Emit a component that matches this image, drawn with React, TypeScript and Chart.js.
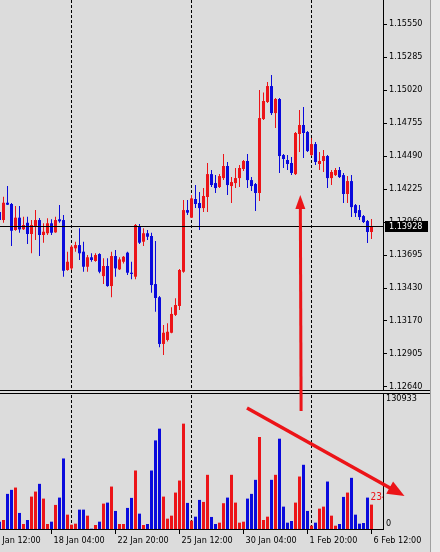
import { useEffect, useRef } from "react";
import { Chart, registerables } from "chart.js";

Chart.register(...registerables);

// ---- data (H4 candles, oldest first) ----
const OPEN = [
  1.1404, 1.13976, 1.14115, 1.14105, 1.13896, 1.13995, 1.13902, 1.13954, 1.13864, 1.13922,
  1.13976, 1.13856, 1.1387, 1.1395, 1.13877, 1.13982, 1.13976, 1.13575, 1.13588, 1.13749,
  1.13775, 1.13722, 1.13601, 1.13677, 1.13647, 1.13703, 1.13526, 1.13607, 1.13446, 1.13687,
  1.1358, 1.13641, 1.13714, 1.13553, 1.13521, 1.13928, 1.13802, 1.1387, 1.13848, 1.13462,
  1.13356, 1.12981, 1.13013, 1.13071, 1.13214, 1.13286, 1.13561, 1.14056, 1.13995, 1.14145,
  1.14113, 1.14072, 1.14161, 1.14345, 1.14273, 1.14241, 1.14313, 1.1441, 1.14249, 1.14273,
  1.14313, 1.14386, 1.1445, 1.14297, 1.14265, 1.14193, 1.14787, 1.14924, 1.15052, 1.14835,
  1.14948, 1.14498, 1.14458, 1.14434, 1.14345, 1.14667, 1.14739, 1.14683, 1.14498, 1.14586,
  1.14426, 1.1445, 1.1449, 1.14313, 1.14337, 1.14378, 1.14337, 1.14185, 1.14289, 1.14096,
  1.14056, 1.14008, 1.13968, 1.1388,
];
const HIGH = [
  1.14072, 1.14163, 1.14249, 1.14113, 1.14088, 1.14088, 1.14003, 1.14003, 1.13976, 1.14056,
  1.13992, 1.1395, 1.1399, 1.13982, 1.14003, 1.14096, 1.14016, 1.13722, 1.13775, 1.13802,
  1.1391, 1.13802, 1.13695, 1.13709, 1.13709, 1.13709, 1.13669, 1.13669, 1.13722, 1.13735,
  1.13677, 1.13687, 1.13722, 1.13641, 1.13944, 1.13944, 1.1391, 1.13896, 1.13874, 1.13807,
  1.13366, 1.13133, 1.13147, 1.13275, 1.13347, 1.13583, 1.14137, 1.14137, 1.14177, 1.14257,
  1.14201, 1.14233, 1.14434, 1.14378, 1.14337, 1.14345, 1.14506, 1.14442, 1.14321, 1.14394,
  1.14418, 1.14458, 1.14506, 1.14321, 1.14273, 1.1502, 1.15, 1.15084, 1.1514, 1.14956,
  1.14956, 1.14506, 1.14498, 1.14482, 1.14683, 1.14859, 1.14883, 1.14691, 1.14635, 1.14602,
  1.14522, 1.14538, 1.14498, 1.14378, 1.14394, 1.14402, 1.14354, 1.14329, 1.14337, 1.14105,
  1.14096, 1.14016, 1.13976, 1.13984,
];
const LOW = [
  1.1396, 1.13954, 1.14096, 1.13767, 1.1389, 1.13874, 1.13896, 1.13783, 1.13709, 1.13815,
  1.13687, 1.13794, 1.13856, 1.13856, 1.13874, 1.13954, 1.13521, 1.13569, 1.13575, 1.13722,
  1.13655, 1.13561, 1.13561, 1.13641, 1.13641, 1.13548, 1.13462, 1.13441, 1.13356, 1.13521,
  1.13575, 1.13628, 1.13534, 1.135, 1.135, 1.13783, 1.13767, 1.13815, 1.13392, 1.1324,
  1.12954, 1.12892, 1.13, 1.13066, 1.13206, 1.13254, 1.13553, 1.14016, 1.13992, 1.14072,
  1.13896, 1.1404, 1.1404, 1.14241, 1.14193, 1.14233, 1.14297, 1.14177, 1.14113, 1.14233,
  1.14241, 1.1437, 1.14233, 1.14209, 1.14048, 1.14129, 1.14779, 1.14916, 1.14819, 1.14715,
  1.14354, 1.14394, 1.14378, 1.14337, 1.14337, 1.14522, 1.14474, 1.14522, 1.1449, 1.14418,
  1.14378, 1.14362, 1.14233, 1.14257, 1.14329, 1.14313, 1.14113, 1.14113, 1.14, 1.14,
  1.13976, 1.13952, 1.13791, 1.13824,
];
const CLOSE = [
  1.13976, 1.14115, 1.14099, 1.1389, 1.13995, 1.13901, 1.13936, 1.13864, 1.13936, 1.13976,
  1.13856, 1.13882, 1.1395, 1.13874, 1.13976, 1.13966, 1.13569, 1.13641, 1.13762, 1.13775,
  1.13709, 1.13601, 1.13677, 1.13655, 1.13695, 1.13561, 1.13607, 1.13446, 1.13687, 1.13588,
  1.1366, 1.13681, 1.13553, 1.13543, 1.13936, 1.13794, 1.1387, 1.13842, 1.13454, 1.1335,
  1.12981, 1.13071, 1.13079, 1.13222, 1.13294, 1.13575, 1.14056, 1.14035, 1.1415, 1.14105,
  1.14072, 1.14169, 1.14345, 1.14257, 1.14233, 1.14329, 1.1441, 1.14257, 1.14281, 1.14313,
  1.14394, 1.1445, 1.14297, 1.14249, 1.14193, 1.14795, 1.14932, 1.15052, 1.14835, 1.14948,
  1.1449, 1.14466, 1.14426, 1.14354, 1.14675, 1.14739, 1.14675, 1.1453, 1.14586, 1.14442,
  1.1445, 1.1449, 1.14313, 1.14362, 1.14378, 1.14321, 1.14185, 1.14289, 1.1408, 1.14032,
  1.14, 1.1396, 1.1388, 1.13928,
];
const VOLUME = [
  7050, 8690, 33810, 37670, 39900, 15460, 4830, 8690, 31200, 36030,
  43470, 29270, 4830, 7050, 23180, 30240, 67910, 13810, 4150, 5120,
  18640, 18640, 12850, 300, 3860, 7050, 24440, 25410, 40860, 17390,
  4830, 4830, 20290, 29950, 56320, 14780, 3860, 4830, 56320, 85300,
  96600, 31200, 9950, 12850, 35070, 46660, 101430, 25120, 8020, 11880,
  28010, 26080, 52160, 11590, 4830, 6090, 24830, 30240, 52160, 25410,
  6090, 7050, 29270, 33810, 47330, 88580, 8690, 11880, 47330, 52160,
  86940, 21540, 6090, 7730, 25410, 50520, 61820, 17390, 3190, 6090,
  19610, 21540, 45690, 12850, 3190, 4830, 30910, 35070, 49270, 13810,
  5120, 5800, 30240, 23470,
];
const PRICE_TICKS = [1.1555, 1.15285, 1.1502, 1.14755, 1.1449, 1.14225, 1.1396, 1.13695, 1.1343, 1.1317, 1.12905, 1.1264];
const TIME_LABELS = ["15 Jan 12:00", "18 Jan 04:00", "22 Jan 20:00", "25 Jan 12:00", "30 Jan 04:00", "1 Feb 20:00", "6 Feb 12:00"];
const TIME_LABEL_BARS = [-3, 13, 29, 45, 61, 77, 93];
const SEPARATOR_BARS = [18, 48, 78];
const BID = 1.13928;
const VOLUME_MAX = 130933;
const PRICE_PANE_MIN = 1.12611;
// hand-drawn arrows (bar index / price or volume)
const ARROW_UP = { fromBar: 75.4, fromPrice: 1.12442, toBar: 75.2, toPrice: 1.14177 };
const ARROW_DOWN = { fromBar: 61.875, fromVol: 116500, toBar: 101.25, toVol: 31800 };

// ---- axis ranges / styling ----
const X_MIN = 0.125;
const X_MAX = 95.875;
const PRICE_AXIS_MIN = 1.11495;
const PRICE_AXIS_MAX = 1.15743;
const VOLUME_AXIS_MAX = 509300;
const RED = "rgb(236,20,24)";
const BLUE = "rgb(10,10,220)";
const BG = "rgb(220,220,220)";
const FONT = "'DejaVu Sans Condensed', 'Liberation Sans', sans-serif";

function drawArrow(ctx: CanvasRenderingContext2D, x1: number, y1: number, x2: number, y2: number, lw: number, hl: number, hw: number) {
  const a = Math.atan2(y2 - y1, x2 - x1);
  const c = Math.cos(a), s = Math.sin(a);
  const bx = x2 - hl * c, by = y2 - hl * s;
  ctx.strokeStyle = RED;
  ctx.fillStyle = RED;
  ctx.lineWidth = lw;
  ctx.lineCap = "butt";
  ctx.beginPath();
  ctx.moveTo(x1, y1);
  ctx.lineTo(bx + c, by + s);
  ctx.stroke();
  ctx.beginPath();
  ctx.moveTo(x2, y2);
  ctx.lineTo(bx + (hw / 2) * s, by - (hw / 2) * c);
  ctx.lineTo(bx - (hw / 2) * s, by + (hw / 2) * c);
  ctx.closePath();
  ctx.fill();
}

export default function App() {
  const ref = useRef<HTMLCanvasElement>(null);
  useEffect(() => {
    const canvas = ref.current;
    if (!canvas) return;
    const colors = OPEN.map((o, i) => (CLOSE[i] >= o ? RED : BLUE));

    const decor = {
      id: "mt4decor",
      beforeDraw(chart: any) {
        const { ctx, width, height } = chart;
        ctx.save();
        ctx.fillStyle = BG;
        ctx.fillRect(0, 0, width, height);
        ctx.fillStyle = "rgb(232,232,232)";
        ctx.fillRect(431, 0, width - 431, height);
        ctx.fillStyle = "rgb(160,160,160)";
        ctx.fillRect(430, 0, 1, height);
        ctx.restore();
      },
      beforeDatasetsDraw(chart: any) {
        const { ctx, chartArea, scales } = chart;
        ctx.save();
        ctx.strokeStyle = "#000";
        ctx.lineWidth = 1;
        ctx.setLineDash([3, 2]);
        SEPARATOR_BARS.forEach((b) => {
          const x = Math.round(scales.x.getPixelForValue(b) - 0.5) + 0.5;
          ctx.beginPath();
          ctx.moveTo(x, chartArea.top);
          ctx.lineTo(x, chartArea.bottom);
          ctx.stroke();
        });
        ctx.restore();
      },
      afterDatasetsDraw(chart: any) {
        const { ctx, chartArea, scales } = chart;
        const yP = scales.y, yV = scales.yVol, x = scales.x;
        ctx.save();
        // bid line
        const by = Math.round(yP.getPixelForValue(BID)) + 0.5;
        ctx.strokeStyle = "#000";
        ctx.lineWidth = 1;
        ctx.beginPath();
        ctx.moveTo(chartArea.left, by);
        ctx.lineTo(chartArea.right, by);
        ctx.stroke();
        // pane borders
        const pb = Math.round(yP.getPixelForValue(PRICE_PANE_MIN)) + 0.5;
        const vt = Math.round(yV.getPixelForValue(VOLUME_MAX)) + 0.5;
        ctx.fillStyle = BG;
        ctx.fillRect(chartArea.left, pb, 430, vt - pb);
        ctx.beginPath();
        ctx.moveTo(chartArea.left, pb);
        ctx.lineTo(430, pb);
        ctx.moveTo(chartArea.left, vt);
        ctx.lineTo(430, vt);
        ctx.stroke();
        // volume scale labels
        ctx.fillStyle = "#000";
        ctx.font = "9px " + FONT;
        ctx.textAlign = "left";
        ctx.textBaseline = "middle";
        ctx.fillText(String(VOLUME_MAX), chartArea.right + 3, yV.getPixelForValue(VOLUME_MAX) + 6);
        ctx.fillText("0", chartArea.right + 3, yV.getPixelForValue(0) - 5.5);
        // current volume value (clipped by plot edge)
        const li = VOLUME.length - 1;
        ctx.save();
        ctx.beginPath();
        ctx.rect(chartArea.left, chartArea.top, chartArea.right - chartArea.left, chartArea.bottom - chartArea.top);
        ctx.clip();
        ctx.fillStyle = colors[li];
        ctx.font = "10px " + FONT;
        ctx.textBaseline = "bottom";
        ctx.fillText(String(VOLUME[li]), x.getPixelForValue(li) - 1, yV.getPixelForValue(VOLUME[li]) - 2);
        ctx.restore();
        // bid label
        ctx.fillStyle = "#000";
        ctx.fillRect(chartArea.right + 2, by - 5.5, 43, 11);
        ctx.fillStyle = "#fff";
        ctx.font = "9px " + FONT;
        ctx.textBaseline = "middle";
        ctx.fillText(BID.toFixed(5), chartArea.right + 6, by);
        // arrows
        drawArrow(ctx, x.getPixelForValue(ARROW_UP.fromBar), yP.getPixelForValue(ARROW_UP.fromPrice),
          x.getPixelForValue(ARROW_UP.toBar), yP.getPixelForValue(ARROW_UP.toPrice), 3, 14, 10);
        drawArrow(ctx, x.getPixelForValue(ARROW_DOWN.fromBar), yV.getPixelForValue(ARROW_DOWN.fromVol),
          x.getPixelForValue(ARROW_DOWN.toBar), yV.getPixelForValue(ARROW_DOWN.toVol), 3.5, 17, 14);
        ctx.restore();
      },
    };

    const common = { grouped: false, inflateAmount: 0, borderWidth: 0, backgroundColor: colors };
    const chart = new Chart(canvas, {
      type: "bar",
      data: {
        datasets: [
          { ...common, label: "wick", yAxisID: "y", barThickness: 1, data: LOW.map((l, i) => ({ x: i, y: [l, HIGH[i]] })) } as any,
          { ...common, label: "body", yAxisID: "y", barThickness: 3, minBarLength: 1, data: OPEN.map((o, i) => ({ x: i, y: [o, CLOSE[i]] })) } as any,
          { ...common, label: "volume", yAxisID: "yVol", barThickness: 3, data: VOLUME.map((v, i) => ({ x: i, y: v })) } as any,
        ],
      },
      options: {
        responsive: false,
        devicePixelRatio: 1,
        animation: false,
        layout: { padding: 0 },
        plugins: { legend: { display: false }, tooltip: { enabled: false } },
        scales: {
          x: {
            type: "linear",
            position: "bottom",
            min: X_MIN,
            max: X_MAX,
            offset: false,
            grid: { drawOnChartArea: false, drawTicks: true, tickLength: 5, color: "#000", offset: false },
            border: { display: true, color: "#000", width: 1 },
            ticks: {
              autoSkip: false,
              maxRotation: 0,
              minRotation: 0,
              align: "start",
              labelOffset: 2,
              padding: 1,
              color: "#000",
              font: { family: FONT, size: 9 },
              callback: (_v: any, i: number) => TIME_LABELS[i],
            },
            afterBuildTicks: (s: any) => {
              s.ticks = TIME_LABEL_BARS.map((v) => ({ value: v }));
            },
            afterFit: (s: any) => {
              s.height = 23;
              s.paddingLeft = 0;
              s.paddingRight = 0;
            },
          } as any,
          y: {
            type: "linear",
            position: "right",
            min: PRICE_AXIS_MIN,
            max: PRICE_AXIS_MAX,
            grid: { drawOnChartArea: false, drawTicks: true, tickLength: 4, color: "#000" },
            border: { display: true, color: "#000", width: 1 },
            ticks: {
              autoSkip: false,
              padding: 2,
              color: "#000",
              font: { family: FONT, size: 9 },
              callback: (v: any) => Number(v).toFixed(5),
            },
            afterBuildTicks: (s: any) => {
              s.ticks = PRICE_TICKS.map((v) => ({ value: v }));
            },
            afterFit: (s: any) => {
              s.width = 57;
              s.paddingTop = 0;
              s.paddingBottom = 0;
            },
          } as any,
          yVol: {
            type: "linear",
            display: false,
            min: 0,
            max: VOLUME_AXIS_MAX,
          },
        },
      },
      plugins: [decor],
    });
    return () => chart.destroy();
  }, []);

  return (
    <div style={{ position: "absolute", left: 0, top: 0, width: 440, height: 552 }}>
      <canvas ref={ref} width={440} height={552} style={{ display: "block", width: 440, height: 552 }} />
    </div>
  );
}
